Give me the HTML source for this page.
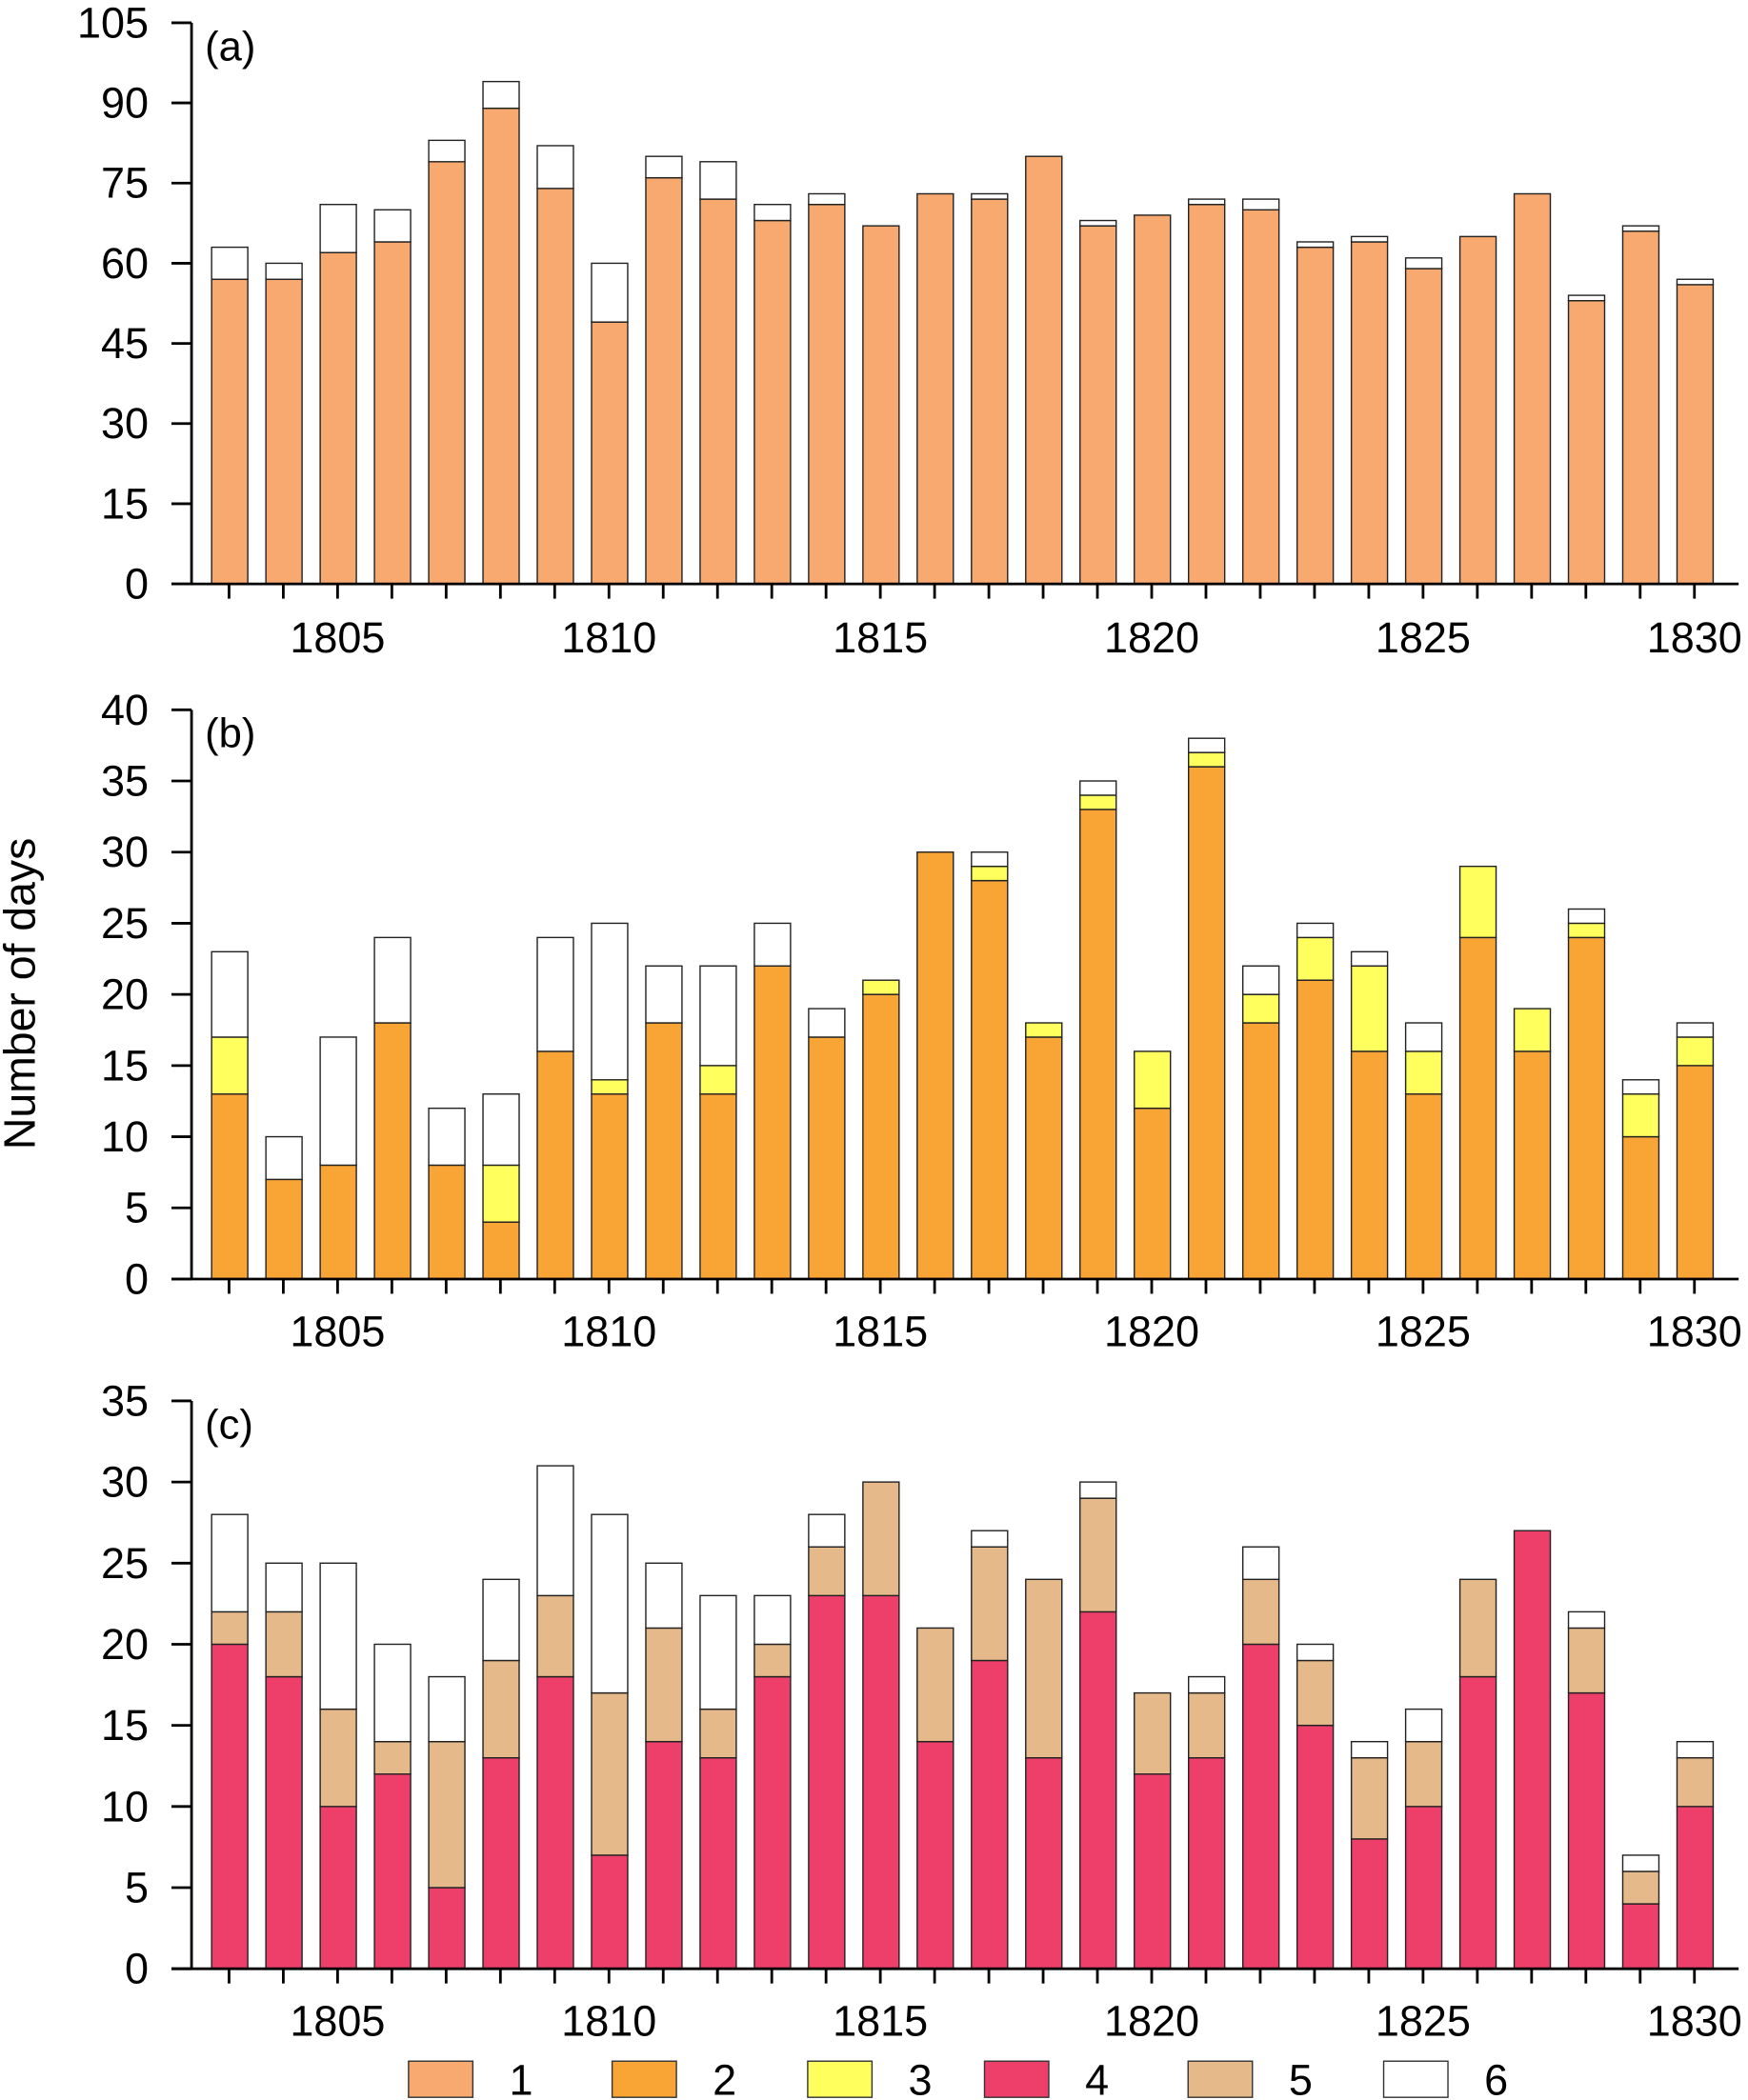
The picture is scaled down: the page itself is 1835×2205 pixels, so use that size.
<!DOCTYPE html>
<html><head><meta charset="utf-8"><style>
html,body{margin:0;padding:0;background:#fff;}
svg{display:block;font-family:"Liberation Sans",Arial,sans-serif;}
</style></head><body>
<svg id="chart" width="1835" height="2205" viewBox="0 0 1305 1568" preserveAspectRatio="none" xmlns="http://www.w3.org/2000/svg"></svg>
<script>
const years = [1803,1804,1805,1806,1807,1808,1809,1810,1811,1812,1813,1814,1815,1816,1817,1818,1819,1820,1821,1822,1823,1824,1825,1826,1827,1828,1829,1830];
const xTickLabels = [1805,1810,1815,1820,1825,1830];
// panel a
const aType1 = [57,57,62,64,79,89,74,49,76,72,68,71,67,73,72,80,67,69,71,70,63,64,59,65,73,53,66,56];
const aType6 = [6,3,9,6,4,5,8,11,4,7,3,2,0,0,1,0,1,0,1,2,1,1,2,0,0,1,1,1];
const aTicks = [0,15,30,45,60,75,90,105];
// panel b
const bType2 = [13,7,8,18,8,4,16,13,18,13,22,17,20,30,28,17,33,12,36,18,21,16,13,24,16,24,10,15];
const bType3 = [4,0,0,0,0,4,0,1,0,2,0,0,1,0,1,1,1,4,1,2,3,6,3,5,3,1,3,2];
const bType6 = [6,3,9,6,4,5,8,11,4,7,3,2,0,0,1,0,1,0,1,2,1,1,2,0,0,1,1,1];
const bTicks = [0,5,10,15,20,25,30,35,40];
// panel c
const cType4 = [20,18,10,12,5,13,18,7,14,13,18,23,23,14,19,13,22,12,13,20,15,8,10,18,27,17,4,10];
const cType5 = [2,4,6,2,9,6,5,10,7,3,2,3,7,7,7,11,7,5,4,4,4,5,4,6,0,4,2,3];
const cType6 = [6,3,9,6,4,5,8,11,4,7,3,2,0,0,1,0,1,0,1,2,1,1,2,0,0,1,1,1];
const cTicks = [0,5,10,15,20,25,30,35];
const legendLabels = ["1","2","3","4","5","6"];
const colors = ["#F7A970","#F8A535","#FFFF5E","#EE3F6B","#E6B98A","#FFFFFF"];

const svg = document.getElementById('chart');
const NS = 'http://www.w3.org/2000/svg';
function mk(tag, attrs, parent){
  const e = document.createElementNS(NS, tag);
  for (const k in attrs) e.setAttribute(k, attrs[k]);
  (parent||svg).appendChild(e);
  return e;
}
const X0 = 171, XSTEP = (1265-171)/27, BW = 27;
function xPos(i){ return X0 + i*XSTEP; }
const panels = [
  {name:'a', zeroY:436, topY:17, max:105, ticks:aTicks, segs:[aType1, aType6], cols:[0,5], label:'(a)', labY:475},
  {name:'b', zeroY:955, topY:530, max:40, ticks:bTicks, segs:[bType2, bType3, bType6], cols:[1,2,5], label:'(b)', labY:993},
  {name:'c', zeroY:1470, topY:1046, max:35, ticks:cTicks, segs:[cType4, cType5, cType6], cols:[3,4,5], label:'(c)', labY:1508}
];
panels.forEach(p=>{
  const g = mk('g', {});
  
  
  const y = v => p.zeroY - (v/p.max)*(p.zeroY - p.topY);
  years.forEach((yr,i)=>{
    let acc = 0;
    p.segs.forEach((arr,si)=>{
      const v = arr[i];
      if (v <= 0) return;
      const r = mk('rect', {x:xPos(i)-BW/2+0.5, y:y(acc+v), width:BW, height:y(acc)-y(acc+v), fill:colors[p.cols[si]], stroke:'#222', 'stroke-width':1}, g);
      
      
      acc += v;
    });
  });
  const ya = mk('line', {x1:143, y1:p.topY, x2:143, y2:p.zeroY, stroke:'#000', 'stroke-width':2}, g);
  
  
  p.ticks.forEach(t=>{
    mk('line', {x1:128, y1:y(t), x2:143, y2:y(t), stroke:'#000', 'stroke-width':2}, g);
    const tx = mk('text', {x:111, y:y(t)+11, 'font-size':32, 'text-anchor':'end'}, g);
    tx.textContent = t;
    
    
  });
  const xa = mk('line', {x1:128, y1:p.zeroY, x2:1298, y2:p.zeroY, stroke:'#000', 'stroke-width':2}, g);
  
  
  years.forEach((yr,i)=>{
    mk('line', {x1:xPos(i), y1:p.zeroY, x2:xPos(i), y2:p.zeroY+11, stroke:'#000', 'stroke-width':2}, g);
  });
  xTickLabels.forEach(yr=>{
    const i = years.indexOf(yr);
    const tx = mk('text', {x:xPos(i), y:p.labY+12, 'font-size':32, 'text-anchor':'middle'}, g);
    tx.textContent = yr;
    
    
  });
  const pl = mk('text', {x:153, y:p.topY+28, 'font-size':31}, g);
  pl.textContent = p.label;
  
  
});
const yt = mk('text', {x:0, y:0, 'font-size':33, 'text-anchor':'middle', transform:'translate(26,742) rotate(-90)'});
yt.textContent = 'Number of days';


const legX = [305,457,603,735,887,1033];
legendLabels.forEach((lab,i)=>{
  const g = mk('g', {});
  
  
  mk('rect', {x:legX[i], y:1539, width:48, height:27, fill:colors[i], stroke:'#333', 'stroke-width':1}, g);
  const t = mk('text', {x:legX[i]+84, y:1564, 'font-size':32, 'text-anchor':'middle'}, g);
  t.textContent = lab;
});
</script>
</body></html>
